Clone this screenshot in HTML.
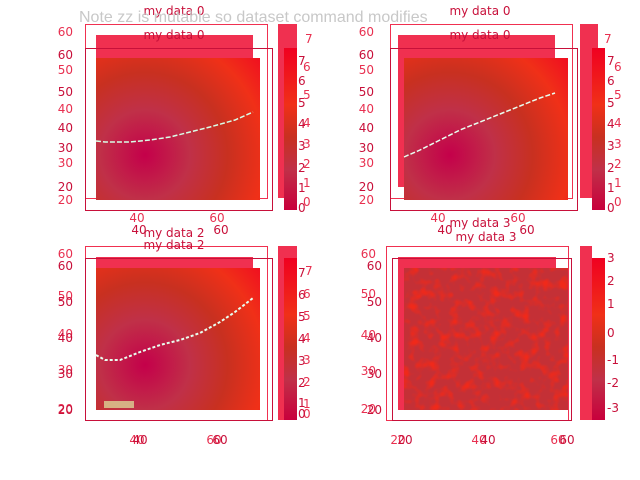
<!DOCTYPE html>
<html><head><meta charset="utf-8"><style>
body{margin:0;background:#fff;}
svg{display:block;font-family:"DejaVu Sans","Liberation Sans",sans-serif;}
.l{fill:#e83050;font-size:12px}
.d{fill:#c8103a;font-size:12px}
</style></head><body>
<svg width="640" height="480" viewBox="0 0 640 480">
<defs>
<radialGradient id="rg" cx="145" cy="155" r="150" gradientUnits="userSpaceOnUse">
<stop offset="0" stop-color="#c4004a"/><stop offset="0.3" stop-color="#c03048"/>
<stop offset="0.55" stop-color="#c83020"/><stop offset="0.8" stop-color="#f03018"/><stop offset="1" stop-color="#f01020"/>
</radialGradient>
<radialGradient id="rg2" cx="450" cy="155" r="150" gradientUnits="userSpaceOnUse">
<stop offset="0" stop-color="#c4004a"/><stop offset="0.3" stop-color="#c03048"/>
<stop offset="0.55" stop-color="#c83020"/><stop offset="0.8" stop-color="#f03018"/><stop offset="1" stop-color="#f01020"/>
</radialGradient>
<radialGradient id="rg3" cx="145" cy="365" r="150" gradientUnits="userSpaceOnUse">
<stop offset="0" stop-color="#c4004a"/><stop offset="0.3" stop-color="#c03048"/>
<stop offset="0.55" stop-color="#c83020"/><stop offset="0.8" stop-color="#f03018"/><stop offset="1" stop-color="#f01020"/>
</radialGradient>
<linearGradient id="cb" x1="0" y1="0" x2="0" y2="1">
<stop offset="0" stop-color="#f00020"/><stop offset="0.35" stop-color="#f03018"/><stop offset="0.55" stop-color="#c83020"/>
<stop offset="0.75" stop-color="#c03048"/><stop offset="1" stop-color="#c8003c"/></linearGradient>
<filter id="noise" x="0" y="0" width="1" height="1" color-interpolation-filters="sRGB">
<feTurbulence type="fractalNoise" baseFrequency="0.1" numOctaves="2" seed="3"/>
<feColorMatrix type="matrix" values="0 0 0 0 0.94  0 0 0 0 0.16  0 0 0 0 0.1  0 0 0 3 -1.4"/>
</filter>
</defs>

<!-- TOP LEFT -->
<rect x="85.5" y="24.5" width="182" height="174" fill="none" stroke="#f03050"/>
<rect x="96" y="35" width="157" height="165" fill="#f03050"/>
<rect x="96" y="58" width="164" height="142" fill="url(#rg)"/>
<rect x="85.5" y="48.5" width="187" height="162" fill="none" stroke="#c8103a"/>
<rect x="278" y="24" width="19" height="174" fill="#f03050"/>
<rect x="284" y="48" width="13" height="162" fill="url(#cb)"/>
<polyline points="96,141 105,142 130,142 150,140 170,137 190,132 210,127 235,120 253,112" fill="none" stroke="#d8ffe8" stroke-width="1.5" stroke-dasharray="5 2"/>
<text class="d" x="174" y="15" text-anchor="middle">my data 0</text>
<text class="d" x="174" y="39" text-anchor="middle">my data 0</text>
<g class="l" text-anchor="end"><text x="73" y="36">60</text><text x="73" y="74">50</text><text x="73" y="113">40</text><text x="73" y="167">30</text><text x="73" y="204">20</text></g>
<g class="d" text-anchor="end"><text x="73" y="59">60</text><text x="73" y="96">50</text><text x="73" y="132">40</text><text x="73" y="152">30</text><text x="73" y="191">20</text></g>
<text class="l" x="137" y="222" text-anchor="middle">40</text><text class="l" x="217" y="222" text-anchor="middle">60</text>
<text class="d" x="139" y="234" text-anchor="middle">40</text><text class="d" x="221" y="234" text-anchor="middle">60</text>
<g class="l"><text x="305" y="43">7</text><text x="303" y="71">6</text><text x="303" y="99">5</text><text x="303" y="127">4</text><text x="303" y="148">3</text><text x="303" y="168">2</text><text x="303" y="187">1</text><text x="303" y="206">0</text></g>
<g class="d"><text x="298" y="65">7</text><text x="298" y="85">6</text><text x="298" y="107">5</text><text x="298" y="128">4</text><text x="298" y="150">3</text><text x="298" y="172">2</text><text x="298" y="192">1</text><text x="298" y="212">0</text></g>

<!-- TOP RIGHT -->
<rect x="390.5" y="24.5" width="182" height="174" fill="none" stroke="#f03050"/>
<rect x="398" y="35" width="157" height="152" fill="#f03050"/>
<rect x="404" y="58" width="164" height="142" fill="url(#rg2)"/>
<rect x="390.5" y="48.5" width="187" height="162" fill="none" stroke="#c8103a"/>
<rect x="580" y="24" width="18" height="174" fill="#f03050"/>
<rect x="592" y="48" width="13" height="162" fill="url(#cb)"/>
<polyline points="404,157 420,150 440,140 460,130 480,122 500,114 520,106 540,98 555,93" fill="none" stroke="#e8fff0" stroke-width="1.5" stroke-dasharray="5 2"/>
<text class="d" x="480" y="15" text-anchor="middle">my data 0</text>
<text class="d" x="480" y="39" text-anchor="middle">my data 0</text>
<g class="l" text-anchor="end"><text x="374" y="36">60</text><text x="374" y="74">50</text><text x="374" y="113">40</text><text x="374" y="167">30</text><text x="374" y="204">20</text></g>
<g class="d" text-anchor="end"><text x="374" y="59">60</text><text x="374" y="96">50</text><text x="374" y="132">40</text><text x="374" y="152">30</text><text x="374" y="191">20</text></g>
<text class="l" x="438" y="222" text-anchor="middle">40</text><text class="l" x="518" y="222" text-anchor="middle">60</text>
<text class="d" x="445" y="234" text-anchor="middle">40</text><text class="d" x="527" y="234" text-anchor="middle">60</text>
<g class="l"><text x="604" y="43">7</text><text x="614" y="71">6</text><text x="614" y="99">5</text><text x="614" y="127">4</text><text x="614" y="148">3</text><text x="614" y="168">2</text><text x="614" y="187">1</text><text x="614" y="206">0</text></g>
<g class="d"><text x="607" y="65">7</text><text x="607" y="85">6</text><text x="607" y="107">5</text><text x="607" y="128">4</text><text x="607" y="150">3</text><text x="607" y="172">2</text><text x="607" y="192">1</text><text x="607" y="212">0</text></g>

<!-- BOTTOM LEFT -->
<rect x="85.5" y="246.5" width="182" height="174" fill="none" stroke="#f03050"/>
<rect x="96" y="257" width="157" height="153" fill="#f03050"/>
<rect x="96" y="268" width="164" height="142" fill="url(#rg3)"/>
<rect x="85.5" y="258.5" width="187" height="162" fill="none" stroke="#c8103a"/>
<rect x="278" y="246" width="19" height="174" fill="#f03050"/>
<rect x="284" y="258" width="13" height="162" fill="url(#cb)"/>
<polyline points="96,355 105,360 120,360 140,352 160,345 180,340 200,333 220,322 235,312 253,298" fill="none" stroke="#e8fff0" stroke-width="2" stroke-dasharray="3 2"/>
<rect x="104" y="401" width="30" height="7" fill="#e0e8a0" opacity="0.7"/>
<text class="d" x="174" y="237" text-anchor="middle">my data 2</text>
<text class="d" x="174" y="249" text-anchor="middle">my data 2</text>
<g class="l" text-anchor="end"><text x="73" y="258">60</text><text x="73" y="300">50</text><text x="73" y="338">40</text><text x="73" y="374">30</text><text x="73" y="413">20</text></g>
<g class="d" text-anchor="end"><text x="73" y="270">60</text><text x="73" y="306">50</text><text x="73" y="342">40</text><text x="73" y="378">30</text><text x="73" y="414">20</text></g>
<text class="l" x="137" y="444" text-anchor="middle">40</text><text class="l" x="214" y="444" text-anchor="middle">60</text>
<text class="d" x="140" y="444" text-anchor="middle">40</text><text class="d" x="220" y="444" text-anchor="middle">60</text>
<g class="l"><text x="305" y="275">7</text><text x="303" y="298">6</text><text x="303" y="320">5</text><text x="303" y="342">4</text><text x="303" y="364">3</text><text x="303" y="386">2</text><text x="303" y="408">1</text><text x="303" y="418">0</text></g>
<g class="d"><text x="298" y="277">7</text><text x="298" y="299">6</text><text x="298" y="321">5</text><text x="298" y="343">4</text><text x="298" y="365">3</text><text x="298" y="387">2</text><text x="298" y="407">1</text><text x="298" y="418">0</text></g>

<!-- BOTTOM RIGHT -->
<rect x="386.5" y="246.5" width="182" height="174" fill="none" stroke="#f03050"/>
<rect x="398" y="257" width="158" height="153" fill="#f03050"/>
<rect x="404" y="268" width="164" height="142" fill="#c43036"/>
<rect x="404" y="268" width="164" height="142" filter="url(#noise)"/>
<rect x="392.5" y="258.5" width="179" height="162" fill="none" stroke="#c8103a"/>
<rect x="580" y="246" width="12" height="174" fill="#f03050"/>
<rect x="592" y="258" width="13" height="162" fill="url(#cb)"/>
<text class="d" x="480" y="227" text-anchor="middle">my data 3</text>
<text class="d" x="486" y="241" text-anchor="middle">my data 3</text>
<g class="l" text-anchor="end"><text x="376" y="258">60</text><text x="376" y="298">50</text><text x="376" y="339">40</text><text x="376" y="375">30</text><text x="376" y="413">20</text></g>
<g class="d" text-anchor="end"><text x="382" y="270">60</text><text x="382" y="306">50</text><text x="382" y="342">40</text><text x="382" y="378">30</text><text x="382" y="414">20</text></g>
<text class="l" x="398" y="444" text-anchor="middle">20</text><text class="l" x="479" y="444" text-anchor="middle">40</text><text class="l" x="558" y="444" text-anchor="middle">60</text>
<text class="d" x="405" y="444" text-anchor="middle">20</text><text class="d" x="488" y="444" text-anchor="middle">40</text><text class="d" x="567" y="444" text-anchor="middle">60</text>
<g class="d"><text x="607" y="262">3</text><text x="607" y="285">2</text><text x="607" y="308">1</text><text x="607" y="337">0</text><text x="607" y="364">-1</text><text x="607" y="387">-2</text><text x="607" y="412">-3</text></g>

<text x="79" y="22" font-size="16" fill="#c8c8c8" font-family="Liberation Sans, sans-serif">Note zz is mutable so dataset command modifies</text>
</svg>
</body></html>
